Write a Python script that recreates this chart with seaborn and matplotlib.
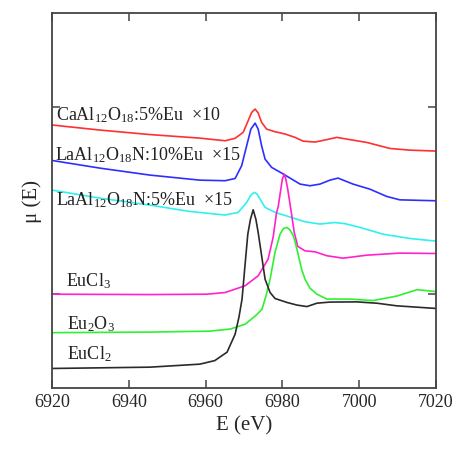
import pandas as pd
import seaborn as sns
from matplotlib import pyplot as plt

# XANES spectra (energy in eV, normalised and offset mu)
e_caal = [6920.0, 6932.5, 6945.5, 6958.5, 6965.1, 6967.7, 6969.8, 6971.1, 6972.0, 6972.9,
          6973.7, 6974.6, 6975.9, 6978.1, 6980.7, 6983.3, 6985.4, 6988.5, 6991.1, 6994.2,
          6997.6, 7002.0, 7008.0, 7013.2, 7020.0]
mu_caal = [1.403, 1.376, 1.352, 1.333, 1.319, 1.332, 1.364, 1.426, 1.470, 1.488,
           1.467, 1.417, 1.381, 1.367, 1.355, 1.337, 1.317, 1.312, 1.323, 1.337,
           1.325, 1.310, 1.278, 1.269, 1.264]

e_la10 = [6920.0, 6932.5, 6945.5, 6958.5, 6965.1, 6967.7, 6969.4, 6970.7, 6971.8, 6972.9,
          6973.7, 6974.6, 6975.5, 6977.2, 6979.8, 6982.4, 6984.6, 6987.2, 6989.8, 6992.4,
          6994.5, 6998.4, 7002.8, 7007.2, 7010.6, 7020.0]
mu_la10 = [1.214, 1.173, 1.136, 1.109, 1.106, 1.118, 1.186, 1.292, 1.381, 1.413,
           1.381, 1.292, 1.221, 1.177, 1.147, 1.115, 1.088, 1.079, 1.088, 1.109,
           1.120, 1.088, 1.061, 1.022, 1.004, 0.999]

e_la5 = [6920.0, 6932.5, 6945.5, 6955.9, 6965.1, 6968.5, 6970.7, 6971.8, 6972.7, 6973.4,
         6974.2, 6975.5, 6978.1, 6982.4, 6985.9, 6989.8, 6993.7, 6996.3, 7000.2, 7006.2,
         7013.2, 7020.0]
mu_la5 = [1.056, 1.013, 0.976, 0.942, 0.923, 0.937, 0.990, 1.029, 1.044, 1.035,
          1.008, 0.964, 0.937, 0.910, 0.887, 0.875, 0.883, 0.877, 0.857, 0.821,
          0.798, 0.784]

e_eucl3 = [6920.0, 6945.5, 6960.4, 6965.1, 6970.3, 6973.7, 6976.3, 6977.6, 6978.5, 6978.9,
           6979.6, 6980.0, 6980.5, 6980.9, 6981.4, 6982.2, 6983.1, 6984.0, 6985.9, 6988.5,
           6991.6, 6995.8, 7002.0, 7010.6, 7020.0]
mu_eucl3 = [0.501, 0.499, 0.501, 0.510, 0.546, 0.599, 0.688, 0.805, 0.937, 0.965,
            1.061, 1.115, 1.141, 1.115, 1.061, 0.955, 0.830, 0.756, 0.732, 0.727,
            0.706, 0.693, 0.709, 0.720, 0.718]

e_eu2o3 = [6920.0, 6945.5, 6961.1, 6966.4, 6970.3, 6972.9, 6974.7, 6975.8, 6976.8, 6978.1,
           6979.4, 6980.3, 6981.2, 6982.0, 6982.9, 6983.8, 6985.0, 6985.9, 6987.2, 6989.0,
           6991.6, 6997.6, 7003.6, 7009.8, 7015.1, 7020.0]
mu_eu2o3 = [0.296, 0.299, 0.304, 0.315, 0.341, 0.384, 0.421, 0.496, 0.580, 0.725,
            0.821, 0.851, 0.857, 0.843, 0.811, 0.741, 0.635, 0.581, 0.533, 0.501,
            0.475, 0.475, 0.467, 0.491, 0.525, 0.515]

e_eucl2 = [6920.0, 6945.5, 6958.5, 6962.4, 6965.6, 6967.7, 6968.7, 6969.5, 6970.3, 6971.0,
           6971.7, 6972.4, 6973.1, 6973.7, 6974.6, 6975.5, 6976.8, 6978.1, 6981.2, 6983.8,
           6986.4, 6989.0, 6992.4, 6999.4, 7004.6, 7009.8, 7020.0]
mu_eucl2 = [0.105, 0.112, 0.128, 0.147, 0.192, 0.288, 0.379, 0.475, 0.661, 0.821,
            0.901, 0.951, 0.901, 0.830, 0.706, 0.581, 0.510, 0.478, 0.457, 0.443,
            0.435, 0.453, 0.459, 0.460, 0.453, 0.439, 0.425]

samples = ["CaAl", "La10", "La5", "EuCl3", "Eu2O3", "EuCl2"]
labels = [r"CaAl$\mathregular{_{12}}$O$\mathregular{_{18}}$:5%Eu  ×10",
          r"LaAl$\mathregular{_{12}}$O$\mathregular{_{18}}$N:10%Eu  ×15",
          r"LaAl$\mathregular{_{12}}$O$\mathregular{_{18}}$N:5%Eu  ×15",
          r"EuCl$\mathregular{_3}$",
          r"Eu$\mathregular{_2}$O$\mathregular{_3}$",
          r"EuCl$\mathregular{_2}$"]
label_x = [6921.0, 6920.8, 6921.0, 6923.6, 6923.8, 6923.9]
label_y = [1.435, 1.221, 0.978, 0.549, 0.318, 0.158]
colors = ["#ff3030", "#2e2eff", "#30f0f0", "#ff22cc", "#30f030", "#2a2a2a"]

energies = [e_caal, e_la10, e_la5, e_eucl3, e_eu2o3, e_eucl2]
mus = [mu_caal, mu_la10, mu_la5, mu_eucl3, mu_eu2o3, mu_eucl2]

frames = []
for name, e, m in zip(samples, energies, mus):
    frames.append(pd.DataFrame({"E": e, "mu": m, "sample": name}))
df = pd.concat(frames, ignore_index=True)

# %%
sns.set_style("ticks")
plt.rcParams['font.family'] = ['Liberation Serif', 'DejaVu Serif']
plt.rcParams['mathtext.fontset'] = 'custom'
plt.rcParams['mathtext.rm'] = 'Liberation Serif'

fig = plt.figure(figsize=(4.56, 4.52), dpi=100)
ax = fig.add_axes([0.114, 0.139, 0.842, 0.830])

sns.lineplot(data=df, x="E", y="mu", hue="sample", palette=colors, sort=False,
             estimator=None, linewidth=1.2, legend=False, ax=ax)

for txt, lx, ly in zip(labels, label_x, label_y):
    ax.text(lx, ly, txt, fontsize=13, va="baseline", ha="left", color="#222222")

ax.set_xlim(6920, 7020)
ax.set_ylim(0, 2)
ax.set_xticks([6920, 6940, 6960, 6980, 7000, 7020])
ax.set_yticks([0.5, 1.5])
ax.set_yticklabels([])
ax.tick_params(direction="in", length=6, width=1.1, color="#444444",
               top=True, right=True, labelsize=13)
for sp in ax.spines.values():
    sp.set_color("#444444")
    sp.set_linewidth(1.3)

ax.set_xlabel("E (eV)", fontsize=15)
ax.set_ylabel("μ (E)", fontsize=15)

plt.savefig("out.png", dpi=100)
